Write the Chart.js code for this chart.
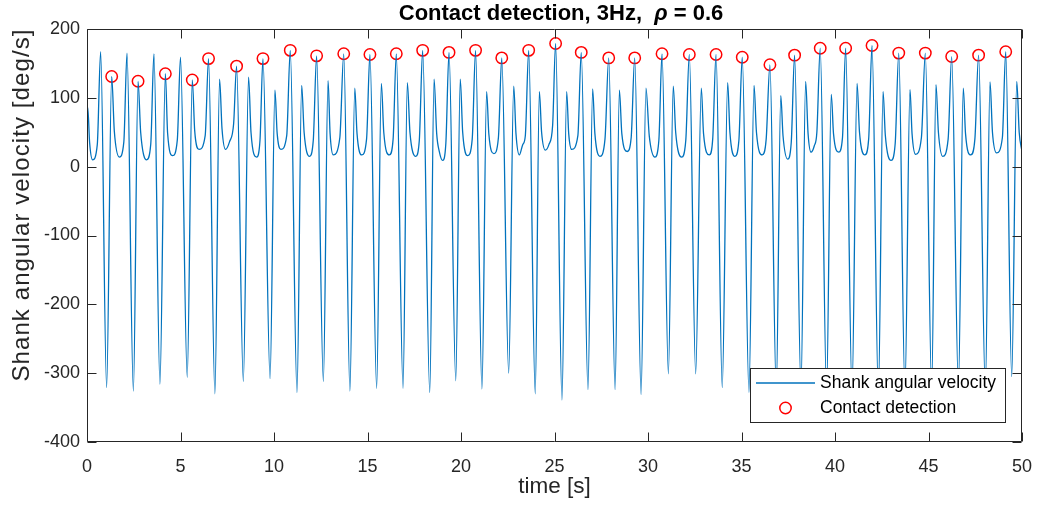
<!DOCTYPE html>
<html><head><meta charset="utf-8">
<script src="https://cdn.jsdelivr.net/npm/chart.js@4.4.1/dist/chart.umd.min.js"></script>
<style>html,body{margin:0;padding:0;background:#fff;}canvas{display:block;}</style>
</head><body>
<canvas id="c" width="1038" height="510"></canvas>
<script>
const timeS = [
  0, 0.04, 0.14, 0.30, 0.55,
  0.73, 1.05, 1.32, 1.46, 1.73, 1.97,
  2.14, 2.48, 2.73, 2.87, 3.19, 3.41,
  3.58, 3.90, 4.19, 4.31, 4.58, 4.83,
  5.00, 5.36, 5.63, 5.76, 5.99, 6.32,
  6.50, 6.84, 7.09, 7.22, 7.41, 7.62, 7.84,
  8.00, 8.36, 8.64, 8.77, 9.07, 9.25,
  9.41, 9.79, 10.05, 10.17, 10.37, 10.68,
  10.87, 11.23, 11.48, 11.61, 11.90, 12.10,
  12.28, 12.64, 12.89, 13.00, 13.17, 13.52,
  13.73, 14.06, 14.32, 14.44, 14.69, 14.95,
  15.13, 15.49, 15.74, 15.87, 16.17, 16.37,
  16.54, 16.90, 17.13, 17.27, 17.58, 17.77,
  17.95, 18.33, 18.56, 18.70, 18.84, 19.02, 19.19,
  19.36, 19.72, 19.96, 20.09, 20.36, 20.60,
  20.78, 21.12, 21.37, 21.49, 21.76, 22.00,
  22.18, 22.55, 22.82, 22.94, 23.12, 23.30, 23.44,
  23.62, 23.97, 24.19, 24.31, 24.51, 24.70, 24.90,
  25.06, 25.40, 25.65, 25.76, 25.92, 26.25,
  26.43, 26.79, 27.04, 27.16, 27.43, 27.70,
  27.90, 28.24, 28.47, 28.60, 28.89, 29.10,
  29.29, 29.63, 29.89, 30.07, 30.37, 30.58,
  30.75, 31.09, 31.35, 31.48, 31.80, 32.02,
  32.21, 32.55, 32.85, 32.97, 33.28, 33.46,
  33.64, 33.97, 34.26, 34.38, 34.65, 34.86,
  35.04, 35.40, 35.67, 35.80, 36.11, 36.32,
  36.52, 36.86, 37.10, 37.22, 37.47, 37.66,
  37.84, 38.18, 38.43, 38.56, 38.72, 38.89, 39.03,
  39.21, 39.55, 39.80, 39.92, 40.20, 40.40,
  40.57, 40.91, 41.18, 41.31, 41.60, 41.80,
  41.98, 42.32, 42.57, 42.69, 43.00, 43.22,
  43.41, 43.74, 44.01, 44.12, 44.31, 44.62,
  44.83, 45.17, 45.40, 45.53, 45.76, 46.05,
  46.24, 46.60, 46.86, 46.98, 47.26, 47.48,
  47.68, 48.04, 48.29, 48.42, 48.64, 48.95,
  49.13, 49.45, 49.72, 49.85, 50.00
];
const velocity = [
  40, 86, 35, 10, 32,
  167, -321, 131, 52, 14, 36,
  165, -326, 124, 50, 10, 33,
  164, -316, 135, 49, 16, 39,
  159, -306, 126, 52, 25, 45,
  157, -330, 127, 55, 25, 36, 62,
  146, -312, 130, 50, 14, 38,
  157, -308, 111, 48, 25, 45,
  169, -328, 118, 50, 15, 38,
  161, -312, 125, 48, 17, 42,
  164, -326, 114, 48, 17, 40,
  163, -322, 121, 50, 17, 40,
  164, -322, 122, 50, 15, 38,
  169, -328, 127, 48, 22, 9, 34,
  166, -311, 127, 50, 16, 40,
  169, -323, 109, 47, 19, 42,
  158, -300, 117, 48, 17, 32, 45,
  169, -330, 109, 50, 24, 32, 60,
  179, -339, 109, 48, 25, 45,
  166, -324, 113, 48, 15, 40,
  158, -324, 111, 48, 22, 42,
  158, -331, 114, 44, 14, 38,
  164, -301, 117, 50, 14, 38,
  163, -301, 114, 48, 17, 40,
  163, -321, 122, 50, 15, 38,
  159, -328, 118, 50, 17, 40,
  148, -325, 103, 45, 11, 35,
  162, -322, 124, 48, 21, 30, 50,
  172, -328, 105, 48, 21, 42,
  172, -326, 121, 50, 17, 40,
  176, -330, 109, 46, 9, 34,
  165, -324, 112, 48, 18, 42,
  165, -322, 119, 50, 15, 40,
  160, -320, 114, 48, 17, 40,
  162, -323, 123, 50, 20, 42,
  167, -305, 124, 50, 22
];
const contactTime = [1.32, 2.73, 4.19, 5.63, 6.50, 8.00, 9.41, 10.87, 12.28, 13.73, 15.13, 16.54,
  17.95, 19.36, 20.78, 22.18, 23.62, 25.06, 26.43, 27.90, 29.29, 30.75, 32.21, 33.64, 35.04,
  36.52, 37.84, 39.21, 40.57, 41.98, 43.41, 44.83, 46.24, 47.68, 49.13];
const contactVel = [131, 124, 135, 126, 157, 146, 157, 169, 161, 164, 163, 164,
  169, 166, 169, 158, 169, 179, 166, 158, 158, 164, 163, 163, 159,
  148, 162, 172, 172, 176, 165, 165, 160, 162, 167];
const xTickValues = [0, 5, 10, 15, 20, 25, 30, 35, 40, 45, 50];
const yTickValues = [-400, -300, -200, -100, 0, 100, 200];
const titleParts = [["Contact detection, 3Hz,  ", "bold"], ["\u03C1", "italic bold"], [" = 0.6", "bold"]];
const xLabel = "time [s]";
const yLabel = "Shank angular velocity [deg/s]";
const seriesNames = ["Shank angular velocity", "Contact detection"];

const FONT = "'Liberation Sans', Arial, Helvetica, sans-serif";
const AX = '#262626';
const BLUE = '#0072BD';
const RED = '#FF0000';

Chart.defaults.font.family = FONT;

const matlabPlugin = {
  id: 'matlab',
  afterDatasetsDraw(chart) {
    const {ctx, chartArea: a, scales: {x, y}} = chart;
    ctx.save();
    ctx.strokeStyle = AX;
    ctx.lineWidth = 1;
    const L = Math.round(a.left) + 0.5, R = Math.round(a.right) - 0.5;
    const T = Math.round(a.top) + 0.5, B = Math.round(a.bottom) - 0.5;
    ctx.beginPath();
    ctx.rect(L, T, R - L, B - T);
    const tl = 9;
    xTickValues.forEach(v => {
      const px = Math.round(x.getPixelForValue(v)) + 0.5;
      ctx.moveTo(px, B); ctx.lineTo(px, B - tl);
      ctx.moveTo(px, T); ctx.lineTo(px, T + tl);
    });
    yTickValues.forEach(v => {
      const py = Math.round(y.getPixelForValue(v)) + 0.5;
      ctx.moveTo(L, py); ctx.lineTo(L + tl, py);
      ctx.moveTo(R, py); ctx.lineTo(R - tl, py);
    });
    ctx.stroke();
    ctx.restore();
  },
  afterDraw(chart) {
    const {ctx, chartArea: a} = chart;
    ctx.save();
    // title
    ctx.fillStyle = '#000';
    ctx.textBaseline = 'alphabetic';
    let total = 0;
    const widths = titleParts.map(([s, st]) => { ctx.font = `${st} 22px ${FONT}`; const w = ctx.measureText(s).width; total += w; return w; });
    let tx = 561 - total / 2;
    titleParts.forEach(([s, st], i) => { ctx.font = `${st} 22px ${FONT}`; ctx.fillText(s, tx, 20); tx += widths[i]; });
    // axis labels
    ctx.fillStyle = AX;
    ctx.font = `22.5px ${FONT}`;
    ctx.textAlign = 'center';
    ctx.fillText(xLabel, (a.left + a.right) / 2, 493);
    ctx.save();
    ctx.font = `24px ${FONT}`;
    ctx.textAlign = 'left';
    const baseW = ctx.measureText(yLabel).width;
    const target = 352;
    const gap = Math.max(0, (target - baseW) / (yLabel.length - 1));
    if ('letterSpacing' in ctx) ctx.letterSpacing = gap.toFixed(2) + 'px';
    const wFinal = ctx.measureText(yLabel).width;
    ctx.translate(29, 205);
    ctx.rotate(-Math.PI / 2);
    ctx.fillText(yLabel, -wFinal / 2, 0);
    ctx.restore();
    // legend
    const bx0 = a.right - 272, bx1 = a.right - 17, by0 = a.bottom - 74, by1 = a.bottom - 20;
    ctx.fillStyle = '#fff';
    ctx.fillRect(bx0, by0, bx1 - bx0, by1 - by0);
    ctx.strokeStyle = AX; ctx.lineWidth = 1;
    ctx.strokeRect(Math.round(bx0) + 0.5, Math.round(by0) + 0.5, Math.round(bx1 - bx0), Math.round(by1 - by0));
    const r1 = by0 + 15, r2 = by0 + 40;
    ctx.strokeStyle = BLUE; ctx.lineWidth = 1.3;
    ctx.beginPath(); ctx.moveTo(bx0 + 6, r1); ctx.lineTo(bx0 + 65, r1); ctx.stroke();
    ctx.strokeStyle = RED; ctx.lineWidth = 1.5;
    ctx.beginPath(); ctx.arc(bx0 + 35.5, r2, 5.7, 0, Math.PI * 2); ctx.stroke();
    ctx.fillStyle = '#000';
    ctx.font = `17.5px ${FONT}`;
    ctx.textAlign = 'left';
    ctx.textBaseline = 'middle';
    ctx.fillText(seriesNames[0], bx0 + 70, r1);
    ctx.fillText(seriesNames[1], bx0 + 70, r2);
    ctx.restore();
  }
};

new Chart(document.getElementById('c'), {
  type: 'line',
  data: {
    datasets: [
      {
        label: seriesNames[0],
        data: timeS.map((t, i) => ({x: t, y: velocity[i]})),
        borderColor: BLUE,
        borderWidth: 1.3,
        pointRadius: 0,
        fill: false,
        cubicInterpolationMode: 'monotone'
      },
      {
        label: seriesNames[1],
        data: contactTime.map((t, i) => ({x: t, y: contactVel[i]})),
        showLine: false,
        pointRadius: 5.7,
        pointBorderWidth: 1.5,
        pointBorderColor: RED,
        pointBackgroundColor: 'rgba(0,0,0,0)',
        borderColor: RED
      }
    ]
  },
  options: {
    responsive: false,
    animation: false,
    devicePixelRatio: 1,
    layout: {padding: {top: 29, right: 16, left: 0, bottom: 0}},
    plugins: {legend: {display: false}, title: {display: false}, tooltip: {enabled: false}},
    scales: {
      x: {
        type: 'linear', min: 0, max: 50,
        grid: {display: false, drawTicks: false},
        border: {display: false},
        ticks: {font: {size: 18}, color: AX, padding: 14, maxRotation: 0},
        afterBuildTicks: s => { s.ticks = xTickValues.map(v => ({value: v})); },
        afterFit: s => { s.height = 68; s.paddingLeft = 0; s.paddingRight = 0; }
      },
      y: {
        type: 'linear', min: -400, max: 200,
        grid: {display: false, drawTicks: false},
        border: {display: false},
        ticks: {font: {size: 18}, color: AX, padding: 7},
        afterBuildTicks: s => { s.ticks = yTickValues.map(v => ({value: v})); },
        afterFit: s => { s.width = 87; s.paddingTop = 0; s.paddingBottom = 0; }
      }
    }
  },
  plugins: [matlabPlugin]
});
</script>
</body></html>
